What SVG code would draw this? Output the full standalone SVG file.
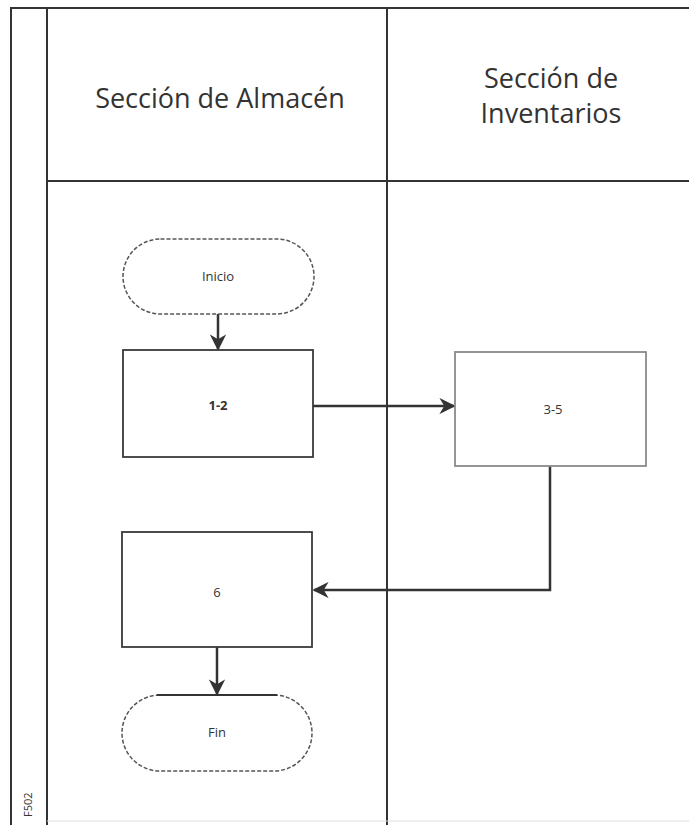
<svg xmlns="http://www.w3.org/2000/svg" width="689" height="825" viewBox="0 0 689 825">
<style>
.frame{stroke:#333;stroke-width:2;fill:none}
.hdr{font-family:"Open Sans","Liberation Sans",sans-serif;font-size:27px;fill:#333;text-anchor:middle}
.lbl{font-family:"Open Sans","Liberation Sans",sans-serif;font-size:13px;fill:#333;text-anchor:middle}
.box{fill:#fff;stroke:#3a3a3a;stroke-width:1.8}
.box.light{stroke:#8a8a8a}
.term{fill:#fff;stroke:#555;stroke-width:1.5;stroke-dasharray:4 2}
.conn{stroke:#333;stroke-width:2.5;fill:none}
</style>
<defs>
<marker id="arr" viewBox="0 0 10 10" refX="9" refY="5" markerWidth="6.5" markerHeight="6.5" orient="auto" markerUnits="strokeWidth">
<path d="M0,0 L10,5 L0,10 L3,5 z" fill="#333"/>
</marker>
</defs>
<rect width="689" height="825" fill="#fff"/>
<g id="frame">
<line class="frame" x1="10" y1="8" x2="689" y2="8"/>
<line class="frame" x1="11" y1="8" x2="11" y2="825"/>
<line class="frame" x1="47" y1="8" x2="47" y2="825"/>
<line class="frame" x1="387" y1="8" x2="387" y2="825"/>
<line class="frame" x1="47" y1="181" x2="689" y2="181"/>
<line x1="47" y1="821" x2="689" y2="821" stroke="#ddd" stroke-width="1"/>
<text class="lbl" transform="translate(32,817) rotate(-90)" style="text-anchor:start;font-size:11px">F502</text>
</g>
<g id="lane-almacen"><text class="hdr" x="220" y="108">Sección de Almacén</text></g>
<g id="lane-inventarios"><text class="hdr" x="551" y="88">Sección de</text><text class="hdr" x="551" y="123">Inventarios</text></g>
<g id="connectors">
<line class="conn" x1="218" y1="314" x2="218" y2="349" marker-end="url(#arr)"/>
<line class="conn" x1="313" y1="406" x2="454" y2="406" marker-end="url(#arr)"/>
<polyline class="conn" points="550,466 550,590 314,590" marker-end="url(#arr)"/>
<line class="conn" x1="217" y1="647" x2="217" y2="694" marker-end="url(#arr)"/>
</g>
<g id="inicio">
<rect class="term" x="123" y="239" width="191" height="75" rx="37.5"/>
<text class="lbl" x="218" y="281">Inicio</text>
</g>
<g id="n12">
<rect class="box" x="123" y="350" width="190" height="107"/>
<text class="lbl" x="218" y="410" style="font-weight:bold">1-2</text>
</g>
<g id="n35">
<rect class="box light" x="455" y="352" width="191" height="114"/>
<text class="lbl" x="553" y="414">3-5</text>
</g>
<g id="n6">
<rect class="box" x="122" y="532" width="190" height="115"/>
<text class="lbl" x="217" y="597">6</text>
</g>
<g id="fin">
<rect class="term" x="122" y="695" width="190" height="76" rx="38"/>
<line x1="157" y1="695" x2="277" y2="695" stroke="#333" stroke-width="2"/>
<text class="lbl" x="217" y="737">Fin</text>
</g>
</svg>
